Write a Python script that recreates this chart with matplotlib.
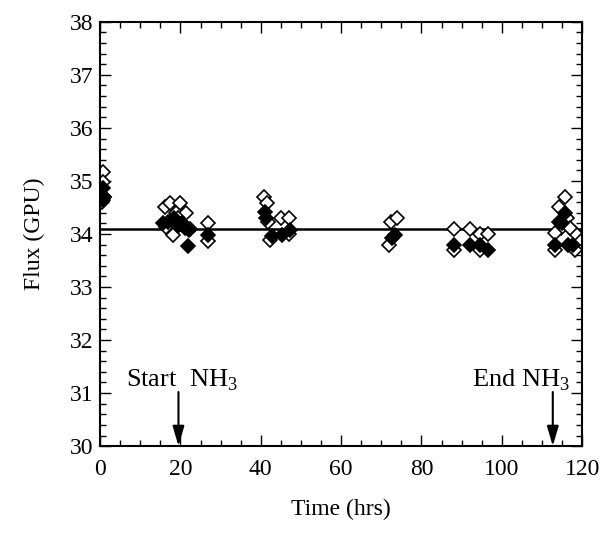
import numpy as np
import matplotlib.pyplot as plt
from matplotlib.ticker import MultipleLocator

plt.rcParams['font.family'] = ['Liberation Serif', 'DejaVu Serif']
plt.rcParams['mathtext.fontset'] = 'custom'
plt.rcParams['mathtext.rm'] = 'Liberation Serif'

# open diamonds
open_t = [0.6, 0.8, 0.5, 0.9,
          16.2, 17.4, 19.9, 18.9, 21.4, 16.5, 18.2, 22.3, 19.5, 20.5,
          26.9, 26.9,
          40.8, 41.5, 41.8, 42.3, 45.0, 47.0, 47.0,
          72.4, 73.9, 71.9,
          88.1, 88.1, 92.0, 94.5, 94.5, 96.5,
          115.7, 114.2, 116.2, 114.8, 113.2, 113.2, 118.2, 118.2, 116.9]
open_flux = [35.17, 34.98, 34.6, 34.7,
             34.51, 34.58, 34.58, 34.4, 34.4, 34.13, 33.98, 34.1, 34.3, 34.2,
             34.2, 33.87,
             34.7, 34.58, 34.23, 33.89, 34.3, 34.3, 34.0,
             34.23, 34.3, 33.8,
             34.09, 33.7, 34.1, 34.0, 33.7, 34.0,
             34.7, 34.51, 34.3, 34.11, 34.02, 33.7, 34.02, 33.7, 34.11]

# filled diamonds
filled_t = [0.6, 0.9, 0.7,
            15.7, 17.0, 18.5, 19.5, 20.3, 21.1, 22.1, 21.9,
            26.9,
            41.0, 41.3, 42.8, 45.3, 47.3,
            72.6, 73.4,
            88.1, 92.0, 94.5, 96.5,
            115.7, 114.2, 115.0, 113.2, 116.4, 117.7]
filled_flux = [34.87, 34.7, 34.65,
               34.2, 34.22, 34.3, 34.15, 34.2, 34.11, 34.08, 33.77,
               33.98,
               34.42, 34.3, 33.96, 33.98, 34.08,
               33.92, 33.98,
               33.79, 33.79, 33.79, 33.7,
               34.4, 34.23, 34.2, 33.79, 33.79, 33.79]

mean_flux = 34.1
start_t, end_t = 19.5, 112.7

fig = plt.figure(figsize=(6.07, 5.33), dpi=100)
ax = fig.add_axes([0.165, 0.163, 0.794, 0.796])

ax.plot([0, 120], [mean_flux, mean_flux], color='black', lw=1.8, zorder=1)
ax.plot(open_t, open_flux, linestyle='none', marker='D', ms=7,
        mfc='white', mec='black', mew=1.2, zorder=2)
ax.plot(filled_t, filled_flux, linestyle='none', marker='D', ms=7,
        mfc='black', mec='black', mew=1.2, zorder=3)

arrow = dict(arrowstyle='-|>,head_length=1.2,head_width=0.35', color='black',
             lw=1.5, shrinkA=0, shrinkB=0)
ax.annotate('', xy=(start_t, 30.0), xytext=(start_t, 31.02), arrowprops=arrow)
ax.annotate('', xy=(end_t, 30.0), xytext=(end_t, 31.02), arrowprops=arrow)
ax.text(20.4, 31.25, 'Start  NH$_3$', ha='center', va='center', fontsize=19)
ax.text(104.7, 31.25, 'End NH$_3$', ha='center', va='center', fontsize=19)

ax.set_xlim(0, 120)
ax.set_ylim(30, 38)
ax.xaxis.set_major_locator(MultipleLocator(20))
ax.xaxis.set_minor_locator(MultipleLocator(5))
ax.yaxis.set_major_locator(MultipleLocator(1))
ax.yaxis.set_minor_locator(MultipleLocator(0.2))
ax.tick_params(which='both', direction='in', top=True, right=True,
               labelsize=17, width=1)
ax.tick_params(which='major', length=8)
ax.tick_params(which='minor', length=4)
ax.tick_params(axis='y', which='major', pad=5)
ax.tick_params(axis='x', which='major', pad=9)
for s in ax.spines.values():
    s.set_linewidth(1.5)

ax.set_xlabel('Time (hrs)', fontsize=17, labelpad=14)
ax.set_ylabel('Flux (GPU)', fontsize=17, labelpad=18)

fig.savefig('out.png', dpi=100)
